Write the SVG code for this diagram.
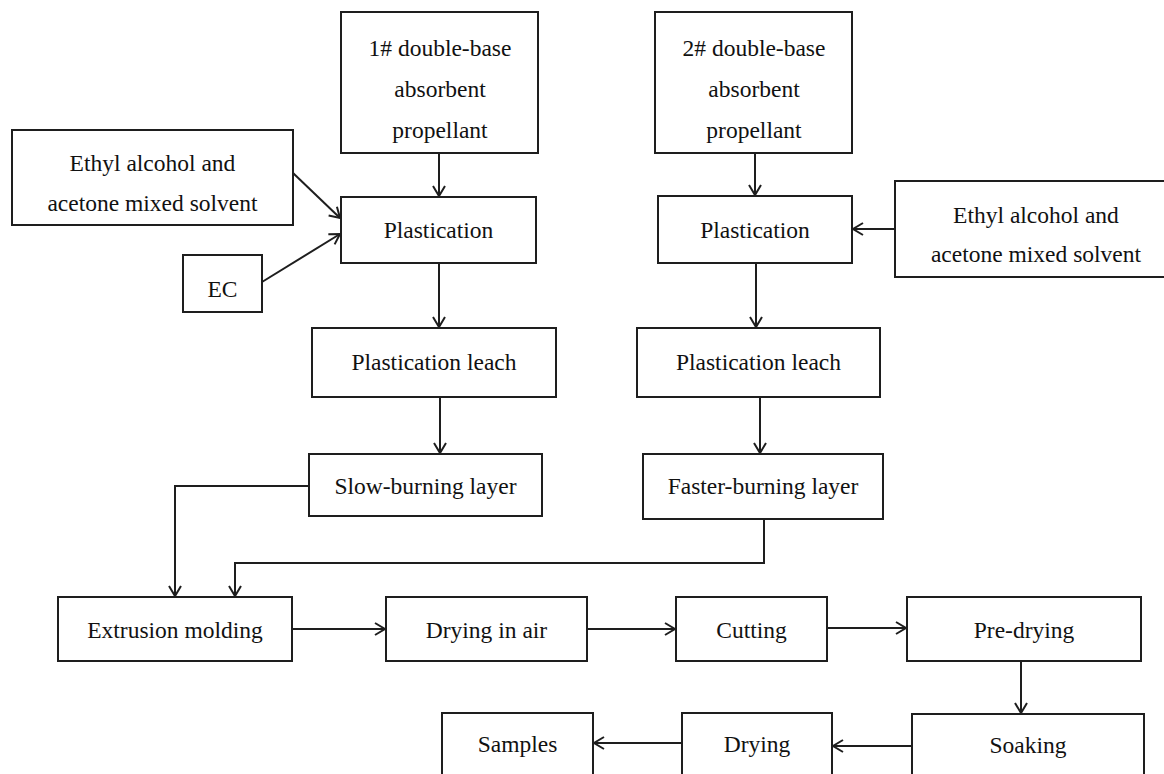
<svg xmlns="http://www.w3.org/2000/svg" width="1164" height="774" viewBox="0 0 1164 774">
<style>
.box{fill:#fff;stroke:#1e1e1e;stroke-width:2}
.t{font-family:'Liberation Serif','DejaVu Serif',serif;font-size:23.5px;fill:#111;text-anchor:middle}
.c{fill:none;stroke:#1e1e1e;stroke-width:2}
</style>
<defs>
<marker id="ah" markerUnits="userSpaceOnUse" markerWidth="14" markerHeight="14" refX="11" refY="7" orient="auto">
<path d="M1,1 L11,7 L1,13" fill="none" stroke="#1e1e1e" stroke-width="2"/>
</marker>
</defs>
<rect width="1164" height="774" fill="#fff"/>
<g id="connectors">
<line class="c" x1="439" y1="153" x2="439" y2="196" marker-end="url(#ah)"/>
<line class="c" x1="293" y1="173" x2="340" y2="218" marker-end="url(#ah)"/>
<line class="c" x1="262" y1="282" x2="340" y2="234" marker-end="url(#ah)"/>
<line class="c" x1="439" y1="263" x2="439" y2="327" marker-end="url(#ah)"/>
<line class="c" x1="440" y1="397" x2="440" y2="453" marker-end="url(#ah)"/>
<line class="c" x1="755" y1="153" x2="755" y2="195" marker-end="url(#ah)"/>
<line class="c" x1="895" y1="229" x2="853" y2="229" marker-end="url(#ah)"/>
<line class="c" x1="756" y1="263" x2="756" y2="327" marker-end="url(#ah)"/>
<line class="c" x1="760" y1="397" x2="760" y2="453" marker-end="url(#ah)"/>
<polyline class="c" points="309,486 175,486 175,596" marker-end="url(#ah)"/>
<polyline class="c" points="764,519 764,563 235,563 235,596" marker-end="url(#ah)"/>
<line class="c" x1="292" y1="629" x2="385" y2="629" marker-end="url(#ah)"/>
<line class="c" x1="587" y1="629" x2="675" y2="629" marker-end="url(#ah)"/>
<line class="c" x1="827" y1="628" x2="906" y2="628" marker-end="url(#ah)"/>
<line class="c" x1="1021" y1="661" x2="1021" y2="713" marker-end="url(#ah)"/>
<line class="c" x1="912" y1="746" x2="833" y2="746" marker-end="url(#ah)"/>
<line class="c" x1="682" y1="743" x2="594" y2="743" marker-end="url(#ah)"/>
</g>
<g id="n1">
<rect class="box" x="341" y="12" width="197" height="141"/>
<text class="t" x="440" y="56">1# double-base</text>
<text class="t" x="440" y="97">absorbent</text>
<text class="t" x="440" y="138">propellant</text>
</g>
<g id="n2">
<rect class="box" x="655" y="12" width="197" height="141"/>
<text class="t" x="754" y="56">2# double-base</text>
<text class="t" x="754" y="97">absorbent</text>
<text class="t" x="754" y="138">propellant</text>
</g>
<g id="solvent1">
<rect class="box" x="12" y="130" width="281" height="95"/>
<text class="t" x="152.5" y="171">Ethyl alcohol and</text>
<text class="t" x="152.5" y="211">acetone mixed solvent</text>
</g>
<g id="ec">
<rect class="box" x="183" y="255" width="79" height="57"/>
<text class="t" x="222.5" y="297">EC</text>
</g>
<g id="plast1">
<rect class="box" x="341" y="197" width="195" height="66"/>
<text class="t" x="438.5" y="238">Plastication</text>
</g>
<g id="plast2">
<rect class="box" x="658" y="196" width="194" height="67"/>
<text class="t" x="755" y="238">Plastication</text>
</g>
<g id="solvent2">
<rect class="box" x="895" y="181" width="284" height="96"/>
<text class="t" x="1036" y="223">Ethyl alcohol and</text>
<text class="t" x="1036" y="262">acetone mixed solvent</text>
</g>
<g id="leach1">
<rect class="box" x="312" y="328" width="244" height="69"/>
<text class="t" x="434" y="370">Plastication leach</text>
</g>
<g id="leach2">
<rect class="box" x="637" y="328" width="243" height="69"/>
<text class="t" x="758.5" y="370">Plastication leach</text>
</g>
<g id="slow">
<rect class="box" x="309" y="454" width="233" height="62"/>
<text class="t" x="425.5" y="494">Slow-burning layer</text>
</g>
<g id="faster">
<rect class="box" x="643" y="454" width="240" height="65"/>
<text class="t" x="763" y="494">Faster-burning layer</text>
</g>
<g id="extrusion">
<rect class="box" x="58" y="597" width="234" height="64"/>
<text class="t" x="175" y="638">Extrusion molding</text>
</g>
<g id="dryair">
<rect class="box" x="386" y="597" width="201" height="64"/>
<text class="t" x="486.5" y="638">Drying in air</text>
</g>
<g id="cutting">
<rect class="box" x="676" y="597" width="151" height="64"/>
<text class="t" x="751.5" y="638">Cutting</text>
</g>
<g id="predrying">
<rect class="box" x="907" y="597" width="234" height="64"/>
<text class="t" x="1024" y="638">Pre-drying</text>
</g>
<g id="soaking">
<rect class="box" x="912" y="714" width="232" height="64"/>
<text class="t" x="1028" y="753">Soaking</text>
</g>
<g id="drying">
<rect class="box" x="682" y="713" width="150" height="65"/>
<text class="t" x="757" y="752">Drying</text>
</g>
<g id="samples">
<rect class="box" x="442" y="713" width="151" height="65"/>
<text class="t" x="517.5" y="752">Samples</text>
</g>
</svg>
